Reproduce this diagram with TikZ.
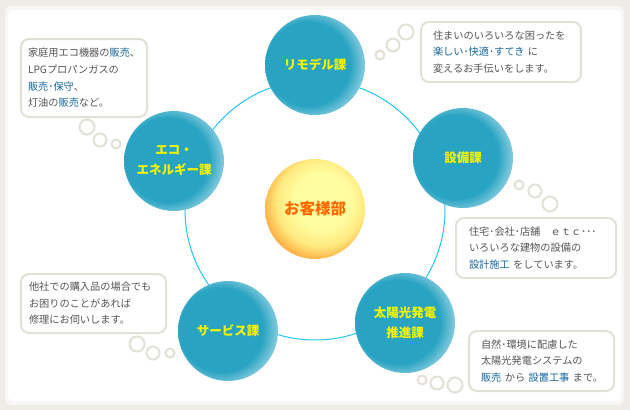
\documentclass[tikz,border=0pt]{standalone}
\usepackage{fontspec}
\usepackage{tikz}
\newfontfamily\jp{Noto Sans CJK JP}

\definecolor{frame}{HTML}{EEECE7}
\definecolor{ballin}{HTML}{29A3C2}
\definecolor{ballout}{HTML}{B4E0EC}
\definecolor{sunin}{HTML}{FFFDA0}
\definecolor{sunmid}{HTML}{FFEA80}
\definecolor{sunout}{HTML}{FF9428}
\definecolor{ring}{HTML}{22C6F2}
\definecolor{boxline}{HTML}{E3E0D7}
\definecolor{txtgray}{HTML}{555555}
\definecolor{txtblue}{HTML}{17679A}
\definecolor{lblyellow}{HTML}{F4F400}
\definecolor{lblorange}{HTML}{FF6A00}

\pgfdeclareradialshading{tealball}{\pgfpoint{-6bp}{1bp}}{color(0bp)=(ballin); color(21bp)=(ballin); color(31bp)=(ballout); color(50bp)=(ballout)}
\pgfdeclareradialshading{sunball}{\pgfpoint{5bp}{6bp}}{color(0bp)=(sunin); color(14bp)=(sunin); color(22bp)=(sunmid); color(31bp)=(sunout); color(50bp)=(sunout)}

\newcommand{\hl}[1]{\textcolor{txtblue}{#1}}

\begin{document}
\begin{tikzpicture}[x=1pt,y=-1pt,
  section/.style={circle, minimum size=100pt, inner sep=0pt, shading=tealball, align=center,
    text=lblyellow, font=\jp\bfseries\fontsize{12.5}{20}\selectfont},
  balloon/.style={draw=boxline, line width=2pt, fill=white, rounded corners=8pt, inner xsep=0pt,
    anchor=north west, align=left, text=txtgray, font=\jp\fontsize{10.2}{16.6}\selectfont},
  puff/.style={draw=boxline, line width=2pt, fill=white}]
  \useasboundingbox (0,0) rectangle (630,410);
  \fill[frame] (0,0) rectangle (630,410);
  \fill[frame!40] (5,6) [rounded corners=6pt] rectangle (624,405);
  \fill[white] (8,10) [rounded corners=5pt] rectangle (621,401);

  % ring
  \draw[ring, line width=1pt] (315,210) circle (130pt);

   % departments
  \node[circle, minimum size=100pt, inner sep=0pt, shading=sunball, text=lblorange,
        font=\jp\bfseries\fontsize{15.5}{18}\selectfont] (kyaku) at (315,209) {お客様部};
  \node[section] (remodel) at (315,65) {リモデル課};
  \node[section] (setsubi) at (463,158) {設備課};
  \node[section] (taiyo) at (405,323) {太陽光発電\\推進課};
  \node[section] (service) at (228,331) {サービス課};
  \node[section] (eco) at (174,161) {エコ・\\エネルギー課};

  % balloons
  \node[balloon, minimum width=126pt, minimum height=78pt, text width=112pt] (ecotxt) at (20,38)
    {家庭用エコ機器の\hl{販売}、\\LPGプロパンガスの\\\hl{販売･保守}、\\灯油の\hl{販売}など。};
  \node[balloon, minimum width=160pt, minimum height=60pt, text width=136pt] (remodeltxt) at (420,21)
    {住まいのいろいろな困ったを\\\hl{楽しい･快適･すてき}~に\\変えるお手伝いをします。};
  \node[balloon, minimum width=160pt, minimum height=60pt, text width=134pt] (setsubitxt) at (455,217)
    {住宅･会社･店舗　ｅｔｃ･･･\\いろいろな建物の設備の\\\hl{設計施工}~をしています。};
  \node[balloon, minimum width=145pt, minimum height=60pt, text width=121pt] (taiyotxt) at (468,330)
    {自然･環境に配慮した\\太陽光発電システムの\\\hl{販売}~から~\hl{設置工事}~まで。};
  \node[balloon, minimum width=145pt, minimum height=59pt, text width=129pt] (servicetxt) at (20,273)
    {他社での購入品の場合でも\\お困りのことがあれば\\修理にお伺いします。};

  % puffs
  \draw[puff] (87,127) circle (7.5pt) (100,140) circle (6.5pt) (116,144) circle (4.5pt);
  \draw[puff] (380,55) circle (4.5pt) (393,45) circle (6.5pt) (406,32) circle (7.5pt);
  \draw[puff] (519,185) circle (4.5pt) (535,191) circle (6.5pt) (550,204) circle (7.5pt);
  \draw[puff] (422,380) circle (4.5pt) (437,383) circle (6.5pt) (455,385) circle (7.5pt);
  \draw[puff] (137,344) circle (7.5pt) (153,353) circle (6.5pt) (170,353) circle (4.5pt);
\end{tikzpicture}
\end{document}
